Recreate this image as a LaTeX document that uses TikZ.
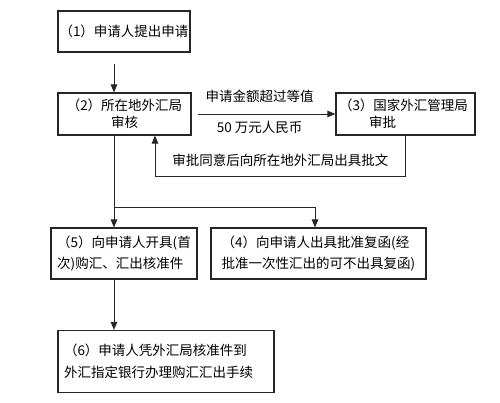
\documentclass[tikz,border=0pt]{standalone}
\usepackage{fontspec}
\setmainfont{Noto Sans CJK SC}
\usetikzlibrary{arrows.meta,calc}
\begin{document}
\begin{tikzpicture}[x=1pt,y=-1pt,
 box/.style={draw=black!85, line width=1.1pt, inner sep=0pt, font=\fontsize{13.5}{21.5}\selectfont},
 tight/.style={font=\fontsize{13.5}{17}\selectfont},
 arr/.style={draw=black!85, line width=1pt, -{Triangle[length=8pt,width=6.5pt]}},
 ln/.style={draw=black!85, line width=1pt},
 lbl/.style={font=\fontsize{13.5}{16}\selectfont, inner sep=0pt}]
\useasboundingbox (0,0) rectangle (500,402);
\fill[white] (0,0) rectangle (500,402);
\coordinate (col) at (114,0);
\coordinate (ret) at (155,0);
\node[box, minimum width=132pt, minimum height=41pt] (b1) at (124,31.5) {（1）申请人提出申请};
\node[box, tight, align=center, minimum width=133pt, minimum height=42pt] (b2) at (124.5,114) {（2）所在地外汇局\\审核};
\node[box, tight, align=left, text width=133pt, minimum width=139pt, minimum height=42pt] (b3) at (405.5,114) {（3）国家外汇管理局\\\mbox{}\kern30pt 审批};
\node[box, align=left, minimum width=146pt, minimum height=51pt] (b5) at (124,253.5) {（5）向申请人开具(首\\次)购汇、汇出核准件};
\node[box, align=left, minimum width=215pt, minimum height=51pt] (b4) at (318.5,253.5) {（4）向申请人出具批准复函(经\\批准一次性汇出的可不出具复函)};
\node[box, align=left, text width=204pt, minimum width=216pt, minimum height=62pt] (b6) at (166,361.5) {（6）申请人凭外汇局核准件到\\外汇指定银行办理购汇汇出手续};
\coordinate (split) at (114,207);
\coordinate (r2) at (155,176);
\draw[arr] ([yshift=-11pt]b1.south -| col) -- (b2.north -| col);
\draw[arr] ([xshift=6pt]b2.east) -- (b3.west)
  node[lbl, pos=0.45, above=11pt] (la) {申请金额超过等值}
  node[lbl, pos=0.45, below=7pt] (lb) {50 万元人民币};
\draw[arr] (b3.south) |- (r2) node[lbl, pos=0.75, above=9pt] (lc) {审批同意后向所在地外汇局出具批文} -- (b2.south -| r2);
\draw[ln] (b2.south -| col) -- (split);
\draw[arr] (split) -- (b5.north -| col);
\draw[arr] (split) -| ([xshift=-3.5pt]b4.north);
\draw[arr] (b5.south -| col) -- (b6.north -| col);
\end{tikzpicture}
\end{document}
